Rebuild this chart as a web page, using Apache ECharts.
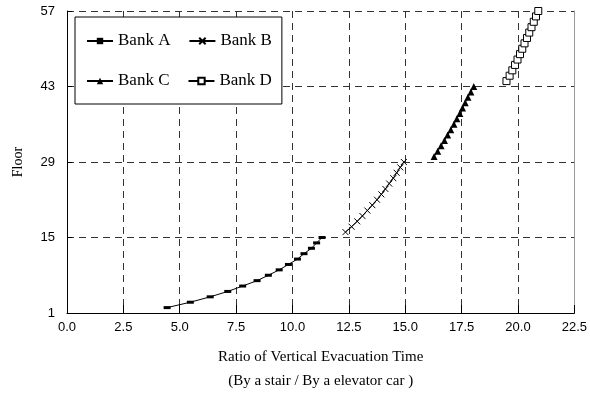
<!DOCTYPE html>
<html>
<head>
<meta charset="utf-8">
<script src="https://cdn.jsdelivr.net/npm/echarts@6/dist/echarts.min.js"></script>
<style>
  html, body { margin: 0; padding: 0; background: #fff; }
  #chart { width: 590px; height: 398px; }
</style>
</head>
<body>
<div id="chart"></div>
<script>
// floors served by each bank and the read-off evacuation time ratio
const floorsA = [2, 3, 4, 5, 6, 7, 8, 9, 10, 11, 12, 13, 14, 15]
const ratioA = [4.44, 5.47, 6.35, 7.13, 7.79, 8.43, 8.93, 9.41, 9.82, 10.22, 10.51, 10.84, 11.07, 11.31]

const floorsB = [16, 17, 18, 19, 20, 21, 22, 23, 24, 25, 26, 27, 28, 29]
const ratioB = [12.35, 12.62, 12.87, 13.10, 13.32, 13.54, 13.75, 13.94, 14.12, 14.29, 14.47, 14.62, 14.78, 14.94]

const floorsC = [30, 31, 32, 33, 34, 35, 36, 37, 38, 39, 40, 41, 42, 43]
const ratioC = [16.28, 16.44, 16.59, 16.74, 16.88, 17.02, 17.16, 17.29, 17.42, 17.54, 17.66, 17.78, 17.91, 18.04]

const floorsD = [44, 45, 46, 47, 48, 49, 50, 51, 52, 53, 54, 55, 56, 57]
const ratioD = [19.49, 19.63, 19.75, 19.87, 19.98, 20.09, 20.19, 20.29, 20.40, 20.50, 20.60, 20.70, 20.80, 20.90]

const bankNames = ['Bank A', 'Bank B', 'Bank C', 'Bank D']

const serif = 'Liberation Serif'
const sans = 'Liberation Sans'

function pairs(xs, ys) {
  return xs.map((x, i) => [x, ys[i]])
}

function bankSeries(name, data, symbol, symbolSize, itemStyle) {
  return {
    name,
    type: 'line',
    data,
    symbol,
    symbolSize,
    showSymbol: true,
    lineStyle: { color: '#000', width: 1 },
    itemStyle,
    emphasis: { disabled: true },
    animation: false
  }
}

const chart = echarts.init(document.getElementById('chart'))

chart.setOption({
  backgroundColor: '#fff',
  animation: false,
  grid: { left: 67, right: 13, top: 11, bottom: 84 },
  legend: {
    left: 75,
    top: 17,
    width: 200,
    data: bankNames,
    itemWidth: 26,
    itemHeight: 8,
    itemGap: 18,
    padding: [13, 10, 12, 11],
    borderColor: '#000',
    borderWidth: 1,
    backgroundColor: '#fff',
    textStyle: { fontFamily: serif, fontSize: 17, color: '#000', lineHeight: 22 }
  },
  xAxis: {
    type: 'value',
    min: 0,
    max: 22.5,
    interval: 2.5,
    axisLine: { lineStyle: { color: '#000', width: 1 } },
    axisTick: { inside: true, length: 8, lineStyle: { color: '#000' } },
    splitLine: { lineStyle: { color: '#333', type: [7, 5], width: 1 } },
    axisLabel: {
      formatter: (v) => v.toFixed(1),
      fontFamily: sans,
      fontSize: 13,
      color: '#000',
      margin: 8
    },
    name: 'Ratio of Vertical Evacuation Time\n(By a stair / By a elevator car )',
    nameLocation: 'middle',
    nameGap: 32,
    nameTextStyle: { fontFamily: serif, fontSize: 15, color: '#000', lineHeight: 24 }
  },
  yAxis: [
    {
      type: 'value',
      min: 1,
      max: 57,
      interval: 14,
      axisLine: { show: true, lineStyle: { color: '#000', width: 1 } },
      axisTick: { show: true, inside: true, length: 5, lineStyle: { color: '#000' } },
      splitLine: { lineStyle: { color: '#333', type: [7, 5], width: 1 } },
      axisLabel: { fontFamily: sans, fontSize: 13, color: '#000', margin: 12, padding: [8, 0, 0, 0] },
      name: 'Floor',
      nameLocation: 'middle',
      nameRotate: 90,
      nameGap: 42,
      nameTextStyle: { fontFamily: serif, fontSize: 14, color: '#000' }
    },
    {
      // right edge of the plot frame
      type: 'value',
      position: 'right',
      min: 1,
      max: 57,
      interval: 14,
      axisLine: { show: true, lineStyle: { color: '#999', width: 1 } },
      axisTick: { show: false },
      axisLabel: { show: false },
      splitLine: { show: false }
    }
  ],
  series: [
    bankSeries('Bank A', pairs(ratioA, floorsA), 'rect', [7, 3], { color: '#000' }),
    bankSeries('Bank B', pairs(ratioB, floorsB), 'path://M0,0L10,10M10,0L0,10', 6,
      { color: '#000', borderColor: '#000', borderWidth: 1 }),
    bankSeries('Bank C', pairs(ratioC, floorsC), 'triangle', 7, { color: '#000' }),
    bankSeries('Bank D', pairs(ratioD, floorsD), 'rect', 7,
      { color: '#fff', borderColor: '#000', borderWidth: 1 })
  ]
})
</script>
</body>
</html>
